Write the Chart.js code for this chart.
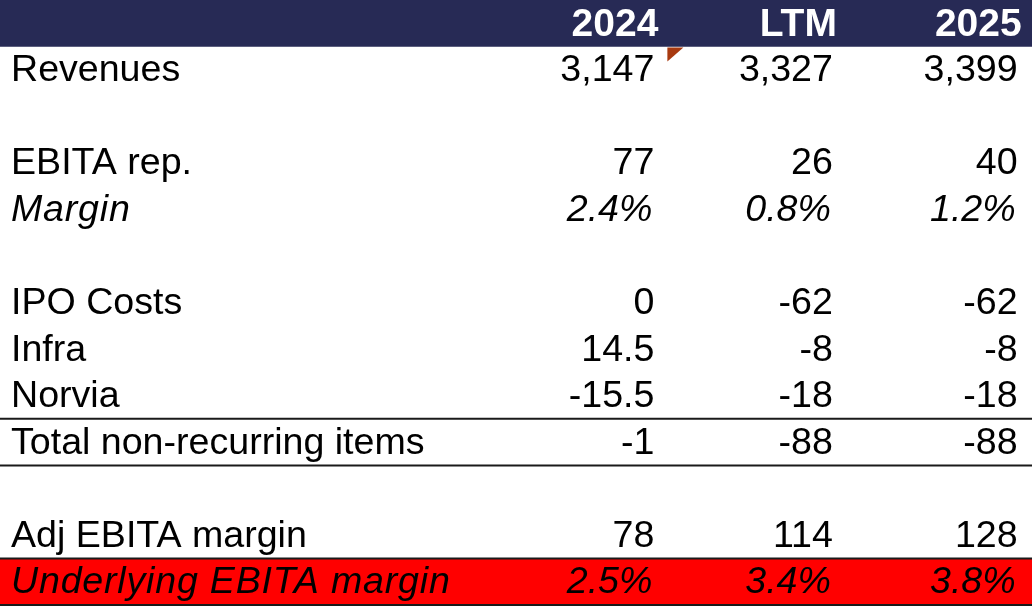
<!DOCTYPE html>
<html>
<head>
<meta charset="utf-8">
<script src="https://cdn.jsdelivr.net/npm/chart.js@4/dist/chart.umd.min.js"></script>
<style>
  html, body { margin: 0; padding: 0; background: #fff; }
  #tableChart { display: block; }
</style>
</head>
<body>
<canvas id="tableChart" width="1032" height="608"></canvas>
<script>
const columns = ["2024", "LTM", "2025"];
const rowLabels = [
    "Revenues", "", "EBITA rep.", "Margin", "",
    "IPO Costs", "Infra", "Norvia", "Total non-recurring items", "",
    "Adj EBITA margin", "Underlying EBITA margin",
];

const revenues = [3147, 3327, 3399];
const ebitaRep = [77, 26, 40];
const ebitaMargin = [2.4, 0.8, 1.2];
const ipoCosts = [0, -62, -62];
const infra = [14.5, -8, -8];
const norvia = [-15.5, -18, -18];
const totalNonRecurring = [-1, -88, -88];
const adjEbita = [78, 114, 128];
const underlyingMargin = [2.5, 3.4, 3.8];

// one entry per row label, null for the spacer rows
const rowValues = [
    revenues, null, ebitaRep, ebitaMargin, null,
    ipoCosts, infra, norvia, totalNonRecurring, null,
    adjEbita, underlyingMargin,
];

const percentRows = ["Margin", "Underlying EBITA margin"];
const ruledRows = ["Total non-recurring items", "Underlying EBITA margin"];
const highlightRow = "Underlying EBITA margin";

const FontFamily = "'Liberation Sans', Arial, sans-serif";
const FontSize = 37.6;
const HeaderFontSize = 39;
const HeaderColor = "#272a55";
const HighlightColor = "#ff0000";
const ColumnEdges = [0.637, 0.81, 0.989];

const yLabels = ["header", ...rowLabels];

const formatValue = (label, v) => {
    if (percentRows.includes(label))
        return v.toFixed(1) + "%";
    return v.toLocaleString("en-US");
};

const tablePlugin = {
    id: "tableText",
    afterDatasetsDraw(chart) {
        const { ctx, scales: { x, y }, chartArea } = chart;
        const band = (chartArea.bottom - chartArea.top) / yLabels.length;

        ctx.save();
        ctx.textBaseline = "alphabetic";

        // header
        ctx.fillStyle = "#ffffff";
        ctx.font = `bold ${HeaderFontSize}px ${FontFamily}`;
        ctx.textAlign = "right";
        columns.forEach((c, ci) => {
            ctx.fillText(c, x.getPixelForValue(ColumnEdges[ci]) + 1, y.getPixelForValue(0) + 13);
        });

        // comment marker under the 2024 header
        const mx = x.getPixelForValue(ColumnEdges[0]) + 10;
        const my = y.getPixelForValue(0) + band / 2 + 1;
        ctx.fillStyle = "#a83a10";
        ctx.beginPath();
        ctx.moveTo(mx, my);
        ctx.lineTo(mx + 16, my);
        ctx.lineTo(mx, my + 14);
        ctx.closePath();
        ctx.fill();

        // body rows
        rowLabels.forEach((label, ri) => {
            const cy = y.getPixelForValue(ri + 1);
            const italic = percentRows.includes(label);
            ctx.font = `${italic ? "italic " : ""}${FontSize}px ${FontFamily}`;
            ctx.fillStyle = "#000000";

            ctx.textAlign = "left";
            ctx.letterSpacing = italic ? "0.8px" : "0px";
            ctx.fillText(label, chartArea.left + 11, cy + 11.5);
            ctx.letterSpacing = "0px";

            const vals = rowValues[ri];
            if (vals) {
                ctx.textAlign = "right";
                vals.forEach((v, ci) => {
                    ctx.fillText(formatValue(label, v), x.getPixelForValue(ColumnEdges[ci]) - (italic ? 5 : 3), cy + 11.5);
                });
            }

            if (ruledRows.includes(label)) {
                ctx.strokeStyle = "#1a1a1a";
                ctx.lineWidth = 2;
                [cy - band / 2, cy + band / 2].forEach(ly => {
                    ctx.beginPath();
                    ctx.moveTo(chartArea.left, ly);
                    ctx.lineTo(chartArea.right, ly);
                    ctx.stroke();
                });
            }
        });

        ctx.restore();
    }
};

const bandData = yLabels.map(l => (l === "header" || l === highlightRow) ? 1 : null);
const bandColors = yLabels.map(l => l === "header" ? HeaderColor : HighlightColor);

new Chart(document.getElementById("tableChart"), {
    type: "bar",
    data: {
        labels: yLabels,
        datasets: [{
            data: bandData,
            backgroundColor: bandColors,
            borderWidth: 0,
            barPercentage: 1,
            categoryPercentage: 1,
        }]
    },
    options: {
        indexAxis: "y",
        responsive: false,
        animation: false,
        layout: { padding: { top: 0, left: 0, right: 0, bottom: 3 } },
        plugins: {
            legend: { display: false },
            tooltip: { enabled: false },
        },
        scales: {
            x: { type: "linear", min: 0, max: 1, display: false },
            y: { type: "category", display: false, offset: true },
        },
    },
    plugins: [tablePlugin],
});
</script>
</body>
</html>
